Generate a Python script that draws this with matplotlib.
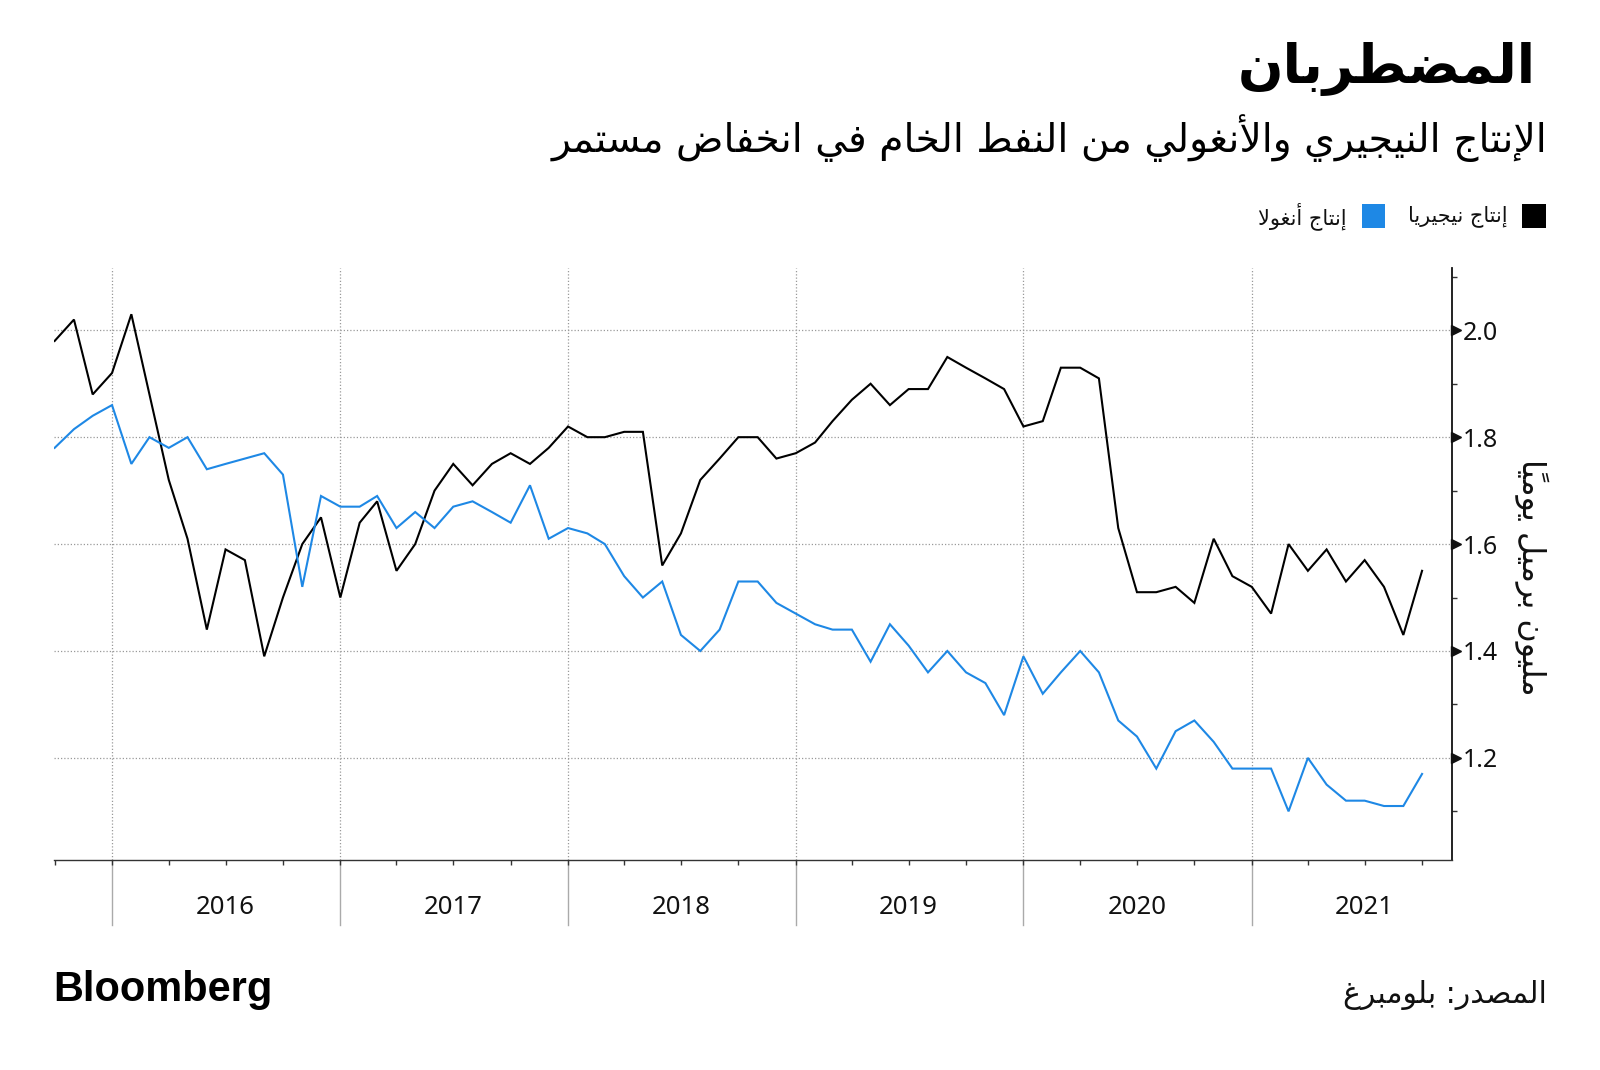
import numpy as np
import pandas as pd
import matplotlib
matplotlib.use("Agg")
import matplotlib.pyplot as plt
import matplotlib.dates as mdates
from matplotlib.patches import Rectangle
from matplotlib.transforms import offset_copy

# ---------------- data ----------------
start_month = "2015-10-01"
n_months = 73
months = pd.date_range(start_month, periods=n_months, freq="MS")

nigeria = [1.98, 2.02, 1.88, 1.92, 2.03, 1.88, 1.72, 1.61, 1.44, 1.59,
           1.57, 1.39, 1.50, 1.60, 1.65, 1.50, 1.64, 1.68, 1.55, 1.60,
           1.70, 1.75, 1.71, 1.75, 1.77, 1.75, 1.78, 1.82, 1.80, 1.80,
           1.81, 1.81, 1.56, 1.62, 1.72, 1.76, 1.80, 1.80, 1.76, 1.77,
           1.79, 1.83, 1.87, 1.90, 1.86, 1.89, 1.89, 1.95, 1.93, 1.91,
           1.89, 1.82, 1.83, 1.93, 1.93, 1.91, 1.63, 1.51, 1.51, 1.52,
           1.49, 1.61, 1.54, 1.52, 1.47, 1.60, 1.55, 1.59, 1.53, 1.57,
           1.52, 1.43, 1.55]
angola = [1.78, 1.815, 1.84, 1.86, 1.75, 1.80, 1.78, 1.80, 1.74, 1.75,
          1.76, 1.77, 1.73, 1.52, 1.69, 1.67, 1.67, 1.69, 1.63, 1.66,
          1.63, 1.67, 1.68, 1.66, 1.64, 1.71, 1.61, 1.63, 1.62, 1.60,
          1.54, 1.50, 1.53, 1.43, 1.40, 1.44, 1.53, 1.53, 1.49, 1.47,
          1.45, 1.44, 1.44, 1.38, 1.45, 1.41, 1.36, 1.40, 1.36, 1.34,
          1.28, 1.39, 1.32, 1.36, 1.40, 1.36, 1.27, 1.24, 1.18, 1.25,
          1.27, 1.23, 1.18, 1.18, 1.18, 1.10, 1.20, 1.15, 1.12, 1.12,
          1.11, 1.11, 1.17]

years = [2016, 2017, 2018, 2019, 2020, 2021]
year_labels = ["2016", "2017", "2018", "2019", "2020", "2021"]
y_ticks = [1.2, 1.4, 1.6, 1.8, 2.0]
y_tick_labels = ["1.2", "1.4", "1.6", "1.8", "2.0"]
y_minor = [1.1, 1.3, 1.5, 1.7, 1.9, 2.1]

title = "المضطربان"
subtitle = "الإنتاج النيجيري والأنغولي من النفط الخام في انخفاض مستمر"
legend_ng = "إنتاج نيجيريا"
legend_ao = "إنتاج أنغولا"
y_label = "مليون برميل يومياً"
source = "المصدر: بلومبرغ"
brand = "Bloomberg"

BLUE = "#1e88e5"
BLACK = "#000000"
GRID = "#9a9a9a"

# ---------------- Arabic shaping (presentation forms + visual order) ----------------
DUAL = {0x0626: 0xFE89, 0x0628: 0xFE8F, 0x062A: 0xFE95, 0x062B: 0xFE99, 0x062C: 0xFE9D,
        0x062D: 0xFEA1, 0x062E: 0xFEA5, 0x0633: 0xFEB1, 0x0634: 0xFEB5, 0x0635: 0xFEB9,
        0x0636: 0xFEBD, 0x0637: 0xFEC1, 0x0638: 0xFEC5, 0x0639: 0xFEC9, 0x063A: 0xFECD,
        0x0641: 0xFED1, 0x0642: 0xFED5, 0x0643: 0xFED9, 0x0644: 0xFEDD, 0x0645: 0xFEE1,
        0x0646: 0xFEE5, 0x0647: 0xFEE9, 0x064A: 0xFEF1}
RIGHT = {0x0622: 0xFE81, 0x0623: 0xFE83, 0x0624: 0xFE85, 0x0625: 0xFE87, 0x0627: 0xFE8D,
         0x0629: 0xFE93, 0x062F: 0xFEA9, 0x0630: 0xFEAB, 0x0631: 0xFEAD, 0x0632: 0xFEAF,
         0x0648: 0xFEED, 0x0649: 0xFEEF}
LAMALEF = {0x0622: 0xFEF5, 0x0623: 0xFEF7, 0x0625: 0xFEF9, 0x0627: 0xFEFB}


def _is_mark(c):
    o = ord(c)
    return 0x064B <= o <= 0x065F or o == 0x0670


def shape(s):
    chars = list(s)
    n = len(chars)
    out = []
    i = 0
    while i < n:
        c = chars[i]
        o = ord(c)
        if _is_mark(c):
            if out:
                out[-1] += c
            else:
                out.append(c)
            i += 1
            continue
        j = i - 1
        while j >= 0 and _is_mark(chars[j]):
            j -= 1
        prev_joins = j >= 0 and ord(chars[j]) in DUAL
        k = i + 1
        while k < n and _is_mark(chars[k]):
            k += 1
        nxt = chars[k] if k < n else None
        if o == 0x0644 and nxt is not None and ord(nxt) in LAMALEF:
            base = LAMALEF[ord(nxt)]
            out.append(chr(base + (1 if prev_joins else 0)))
            i = k + 1
            continue
        if o in DUAL:
            b = DUAL[o]
            can_next = nxt is not None and (ord(nxt) in DUAL or ord(nxt) in RIGHT)
            if prev_joins and can_next:
                g = b + 3
            elif prev_joins:
                g = b + 1
            elif can_next:
                g = b + 2
            else:
                g = b
            out.append(chr(g))
        elif o in RIGHT:
            b = RIGHT[o]
            out.append(chr(b + 1 if prev_joins else b))
        else:
            out.append(c)
        i += 1
    return "".join(reversed(out))


# ---------------- figure ----------------
W, H = 1600, 1070
fig = plt.figure(figsize=(W / 100, H / 100), dpi=100)
renderer = fig.canvas.get_renderer()

AR = ["DejaVu Sans"]
NUM = ["Noto Sans", "DejaVu Sans"]


def fx(px):
    return px / W


def fy(py):
    return 1 - py / H


def fit_text(x, y, s, length_px, **kw):
    t = fig.text(fx(x), fy(y), s, **kw)
    bb = t.get_window_extent(renderer=renderer)
    length = max(bb.width, bb.height) if kw.get("rotation") else bb.width
    t.set_fontsize(t.get_fontsize() * length_px / length)
    return t


ax_l, ax_r, ax_t, ax_b = 54, 1452, 268, 860
ax = fig.add_axes([fx(ax_l), fy(ax_b), (ax_r - ax_l) / W, (ax_b - ax_t) / H])

ax.plot(months, nigeria, color=BLACK, lw=1.5, zorder=3, solid_joinstyle="miter")
ax.plot(months, angola, color=BLUE, lw=1.5, zorder=3, solid_joinstyle="miter")

ax.set_ylim(1.009, 2.1165)
ax.set_xlim(pd.Timestamp("2015-09-30"), pd.Timestamp("2021-11-18"))

# grid
dotted = (0, (1, 1.6))
for yv in y_ticks:
    ax.axhline(yv, color=GRID, lw=0.9, ls=dotted, zorder=1)
for yr in years:
    ax.axvline(pd.Timestamp(f"{yr}-01-01"), color=GRID, lw=0.9, ls=dotted, zorder=1)

# spines
for s in ["left", "top"]:
    ax.spines[s].set_visible(False)
ax.spines["right"].set_color("#111111")
ax.spines["right"].set_linewidth(1.3)
ax.spines["bottom"].set_color("#333333")
ax.spines["bottom"].set_linewidth(1.0)

# x axis: quarter ticks, no labels
ax.xaxis.set_major_locator(mdates.MonthLocator(bymonth=[1, 4, 7, 10]))
ax.xaxis.set_major_formatter(plt.NullFormatter())
ax.tick_params(axis="x", which="major", direction="out", length=3.5, width=1,
               color="#333333")
xt = ax.get_xaxis_transform()
for yr, lab in zip(years, year_labels):
    ax.plot([pd.Timestamp(f"{yr}-01-01")] * 2, [0, -0.11], transform=xt,
            color="#aaaaaa", lw=1.0, clip_on=False, zorder=1)
    ax.text(pd.Timestamp(f"{yr}-07-01"), -0.081, lab, transform=xt,
            ha="center", va="center", fontsize=18.5, family=NUM, color="#111111")

# y axis on the right
ax.yaxis.tick_right()
ax.set_yticks(y_ticks)
ax.set_yticklabels(y_tick_labels, family=NUM, fontsize=18, color="#111111")
ax.set_yticks(y_minor, minor=True)
ax.tick_params(axis="y", which="major", length=0, pad=8)
ax.tick_params(axis="y", which="minor", direction="out", length=3.5, width=1,
               color="#333333")
ax.tick_params(axis="y", which="both", left=False, right=True)
tri_tr = offset_copy(ax.get_yaxis_transform(), fig=fig, x=4, y=0, units="dots")
ax.plot([1.0] * len(y_ticks), y_ticks, transform=tri_tr, ls="none", marker=">",
        ms=7, color="#111111", clip_on=False, zorder=5)

# y label
fit_text(1531, 577, shape(y_label), 236, family=AR, fontsize=18, rotation=270,
         ha="center", va="center", color="#111111", rotation_mode="anchor")

# title / subtitle
fit_text(1536, 69, shape(title), 298, family=AR, fontsize=40, fontweight="bold",
         ha="right", va="center", color="#000000")
fit_text(1547, 138, shape(subtitle), 996, family=AR, fontsize=28,
         ha="right", va="center", color="#000000")

# legend
fig.patches.append(Rectangle((fx(1522), fy(228)), 24 / W, 24 / H, transform=fig.transFigure,
                             facecolor=BLACK, edgecolor="none"))
fig.patches.append(Rectangle((fx(1362), fy(228)), 23 / W, 24 / H, transform=fig.transFigure,
                             facecolor=BLUE, edgecolor="none"))
t1 = fit_text(1508, 216, shape(legend_ng), 100, family=AR, fontsize=15,
              ha="right", va="center", color="#111111")
fig.text(fx(1347), fy(216), shape(legend_ao), family=AR, fontsize=t1.get_fontsize(),
         ha="right", va="center", color="#111111")

# footer
fit_text(53, 990, brand, 219, family=["Liberation Sans", "DejaVu Sans"], fontsize=28,
         fontweight="bold", ha="left", va="center", color="#000000")
fit_text(1547, 995, shape(source), 204, family=AR, fontsize=20,
         ha="right", va="center", color="#111111")

fig.savefig("out.png", dpi=100, facecolor="white")
